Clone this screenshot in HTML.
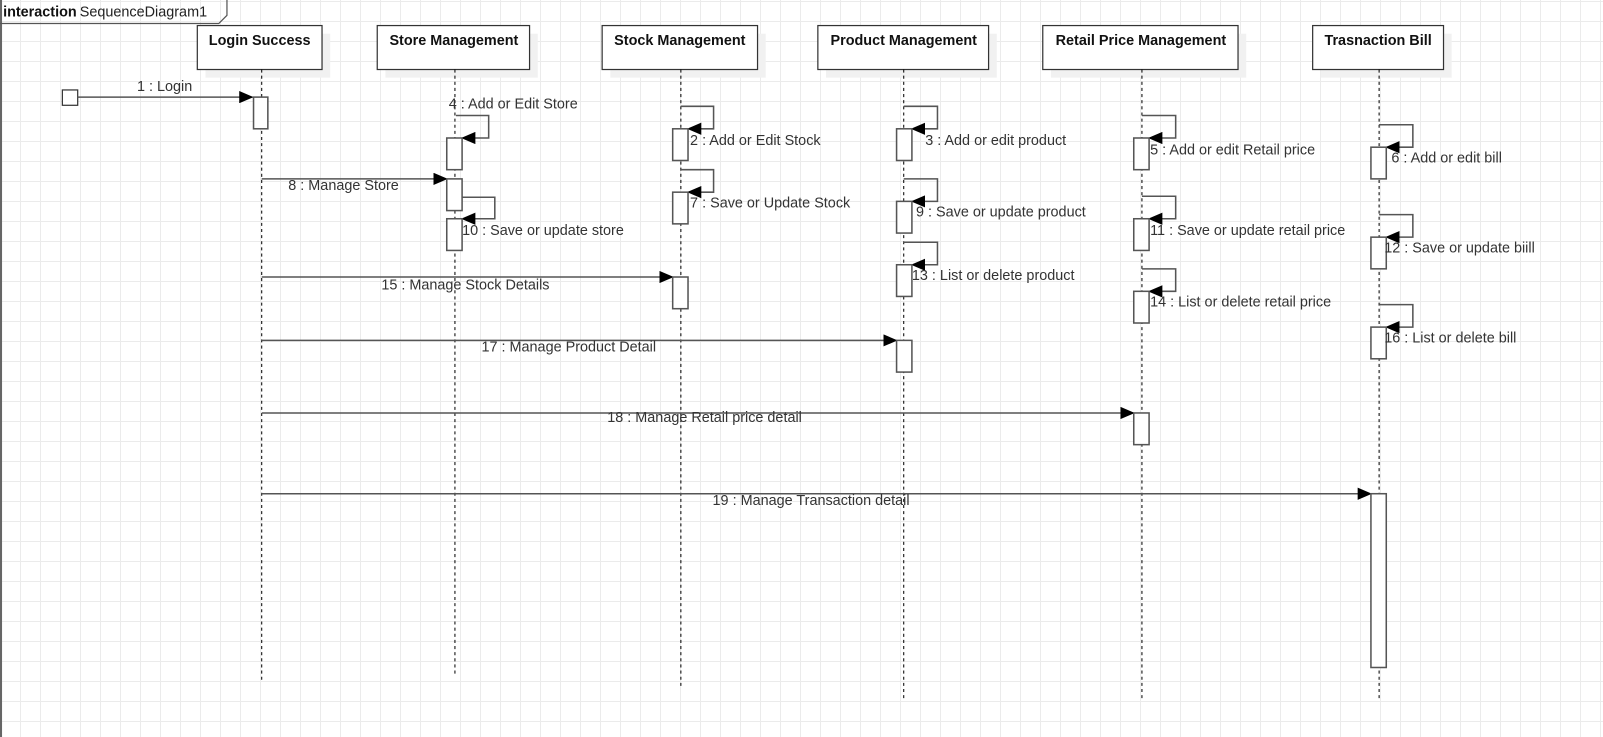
<!DOCTYPE html>
<html><head><meta charset="utf-8"><style>
html,body{margin:0;padding:0;width:1603px;height:737px;overflow:hidden;background:#fff;}
body{background-image:linear-gradient(#ebebeb 1px,transparent 1px),linear-gradient(90deg,#ebebeb 1px,transparent 1px);background-size:20px 20px;background-position:0 1px;}
svg{position:absolute;left:0;top:0;}
text{font-family:"Liberation Sans",sans-serif;font-size:14.1px;fill:#333;}
.h{font-weight:bold;fill:#111;text-anchor:middle;}
.ll{stroke:#000;stroke-width:1;stroke-dasharray:3,3;fill:none;}
.m{stroke:#555;stroke-width:1.5;fill:none;}
.a{fill:#fff;stroke:#555;stroke-width:1.5;}
.hb{fill:#fff;stroke:#333;stroke-width:1.2;}
.sh{fill:#f1f1f1;}
</style></head><body>
<svg width="1603" height="737" viewBox="0 0 1568 721" preserveAspectRatio="none">
<defs><marker id="ar" markerWidth="14" markerHeight="12" refX="13" refY="6" orient="auto" markerUnits="userSpaceOnUse"><path d="M0,0 L14,6 L0,12 Z" fill="#000"/></marker></defs>
<path d="M1,0 V721" stroke="#666" stroke-width="2"/>
<path d="M0,23 H214 L222,15 V0" stroke="#555" stroke-width="1.2" fill="none"/>
<text x="3" y="16" style="font-weight:bold;fill:#111">interaction</text>
<text x="78" y="16" style="fill:#222">SequenceDiagram1</text>
<rect class="sh" x="201" y="33" width="122" height="43"/><rect class="hb" x="193" y="25" width="122" height="43"/><text class="h" x="254" y="44">Login Success</text>
<rect class="sh" x="377" y="33" width="149" height="43"/><rect class="hb" x="369" y="25" width="149" height="43"/><text class="h" x="444" y="44">Store Management</text>
<rect class="sh" x="597" y="33" width="152" height="43"/><rect class="hb" x="589" y="25" width="152" height="43"/><text class="h" x="665" y="44">Stock Management</text>
<rect class="sh" x="808" y="33" width="167" height="43"/><rect class="hb" x="800" y="25" width="167" height="43"/><text class="h" x="884" y="44">Product Management</text>
<rect class="sh" x="1028" y="33" width="191" height="43"/><rect class="hb" x="1020" y="25" width="191" height="43"/><text class="h" x="1116" y="44">Retail Price Management</text>
<rect class="sh" x="1292" y="33" width="128" height="43"/><rect class="hb" x="1284" y="25" width="128" height="43"/><text class="h" x="1348" y="44">Trasnaction Bill</text>
<path class="ll" d="M256,68 V667"/><path class="ll" d="M445,68 V660"/><path class="ll" d="M666,68 V674"/>
<path class="ll" d="M884,68 V686"/><path class="ll" d="M1117,68 V686"/><path class="ll" d="M1349,68 V686"/>
<rect x="61" y="88" width="15" height="15" fill="#fff" stroke="#333" stroke-width="1.2"/>
<path class="m" d="M76,95 H247" marker-end="url(#ar)"/>
<rect class="a" x="248" y="95" width="14" height="31"/>
<path class="m" d="M446,113 H478 V135 H452" marker-end="url(#ar)"/>
<rect class="a" x="437" y="135" width="15" height="31"/>
<path class="m" d="M256,175 H437" marker-end="url(#ar)"/>
<rect class="a" x="437" y="175" width="15" height="31"/>
<path class="m" d="M452,193 H484 V214 H452" marker-end="url(#ar)"/>
<rect class="a" x="437" y="214" width="15" height="31"/>
<path class="m" d="M666,104 H698 V126 H673" marker-end="url(#ar)"/>
<rect class="a" x="658" y="126" width="15" height="31"/>
<path class="m" d="M666,166 H698 V188 H673" marker-end="url(#ar)"/>
<rect class="a" x="658" y="188" width="15" height="31"/>
<path class="m" d="M256,271 H658" marker-end="url(#ar)"/>
<rect class="a" x="658" y="271" width="15" height="31"/>
<path class="m" d="M884,104 H917 V126 H892" marker-end="url(#ar)"/>
<rect class="a" x="877" y="126" width="15" height="31"/>
<path class="m" d="M884,175 H917 V197 H892" marker-end="url(#ar)"/>
<rect class="a" x="877" y="197" width="15" height="31"/>
<path class="m" d="M884,237 H917 V259 H892" marker-end="url(#ar)"/>
<rect class="a" x="877" y="259" width="15" height="31"/>
<path class="m" d="M256,333 H877" marker-end="url(#ar)"/>
<rect class="a" x="877" y="333" width="15" height="31"/>
<path class="m" d="M1117,113 H1150 V135 H1124" marker-end="url(#ar)"/>
<rect class="a" x="1109" y="135" width="15" height="31"/>
<path class="m" d="M1117,192 H1150 V214 H1124" marker-end="url(#ar)"/>
<rect class="a" x="1109" y="214" width="15" height="31"/>
<path class="m" d="M1117,263 H1150 V285 H1124" marker-end="url(#ar)"/>
<rect class="a" x="1109" y="285" width="15" height="31"/>
<path class="m" d="M256,404 H1109" marker-end="url(#ar)"/>
<rect class="a" x="1109" y="404" width="15" height="31"/>
<path class="m" d="M1349,122 H1382 V144 H1356" marker-end="url(#ar)"/>
<rect class="a" x="1341" y="144" width="15" height="31"/>
<path class="m" d="M1349,210 H1382 V232 H1356" marker-end="url(#ar)"/>
<rect class="a" x="1341" y="232" width="15" height="31"/>
<path class="m" d="M1349,298 H1382 V320 H1356" marker-end="url(#ar)"/>
<rect class="a" x="1341" y="320" width="15" height="31"/>
<path class="m" d="M256,483 H1341" marker-end="url(#ar)"/>
<rect class="a" x="1341" y="483" width="15" height="170"/>
<text x="134" y="89">1 : Login</text>
<text x="439" y="106">4 : Add or Edit Store</text>
<text x="282" y="186">8 : Manage Store</text>
<text x="452" y="230">10 : Save or update store</text>
<text x="675" y="142">2 : Add or Edit Stock</text>
<text x="675" y="203">7 : Save or Update Stock</text>
<text x="373" y="283">15 : Manage Stock Details</text>
<text x="905" y="142">3 : Add or edit product</text>
<text x="896" y="212">9 : Save or update product</text>
<text x="892" y="274">13 : List or delete product</text>
<text x="471" y="344">17 : Manage Product Detail</text>
<text x="1125" y="151">5 : Add or edit Retail price</text>
<text x="1125" y="230">11 : Save or update retail price</text>
<text x="1125" y="300">14 : List or delete retail price</text>
<text x="594" y="413">18 : Manage Retail price detail</text>
<text x="1361" y="159">6 : Add or edit bill</text>
<text x="1354" y="247">12 : Save or update biill</text>
<text x="1354" y="335">16 : List or delete bill</text>
<text x="697" y="494">19 : Manage Transaction detail</text>
</svg>
</body></html>
